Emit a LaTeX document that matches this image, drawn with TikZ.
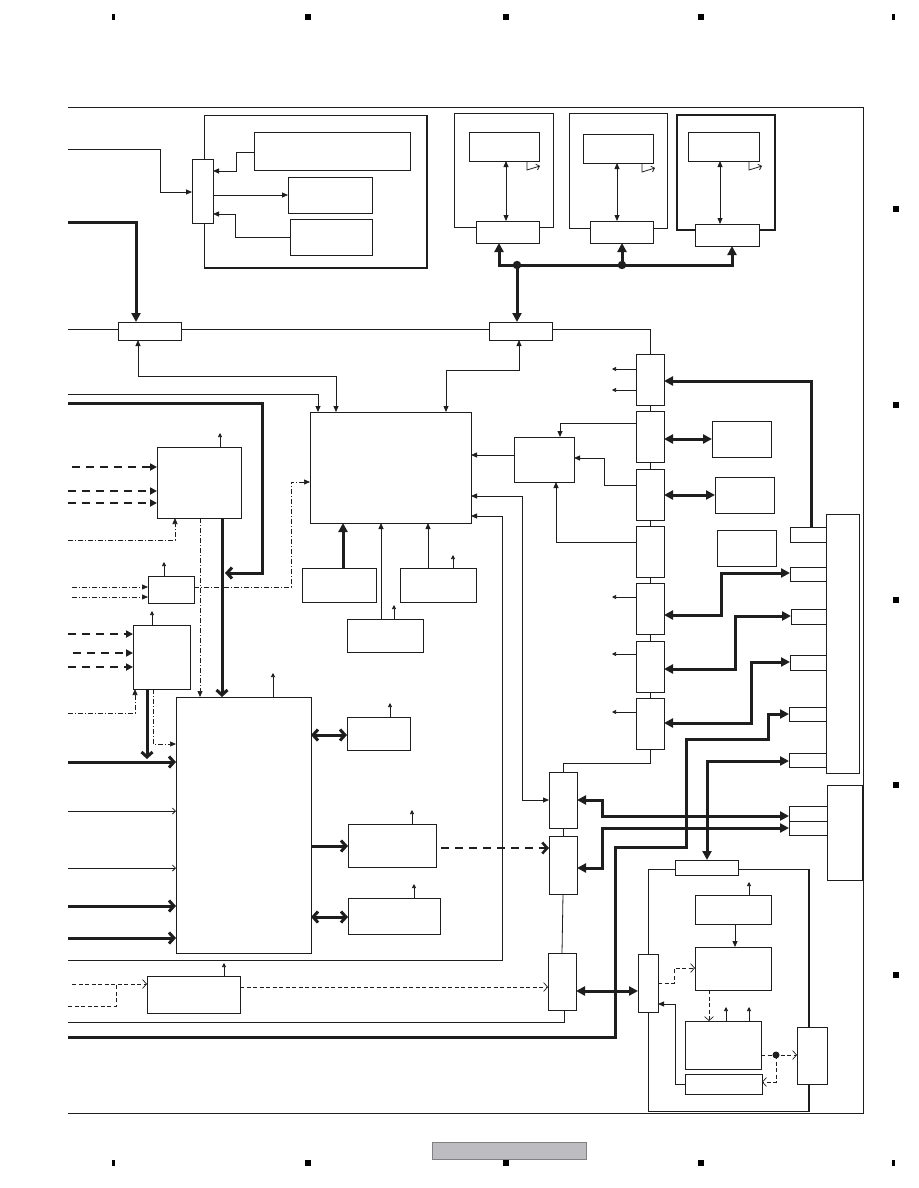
\documentclass[tikz,border=0pt]{standalone}
\usetikzlibrary{arrows.meta}
\definecolor{ink}{HTML}{1E1E1E}
\definecolor{pgray}{HTML}{BDBDC1}
\newcommand\mybox[6][]{\node[bx,#1,minimum width={(#4-#2)*1pt},minimum height={(#5-#3)*1pt}] (#6) at ({(#2+#4)/2},{(#3+#5)/2}) {};}
\tikzset{
 bx/.style={draw=ink,line width=0.9pt,fill=white,inner sep=0pt,outer sep=0pt},
 ln/.style={draw=ink,line width=0.8pt},
 tk/.style={draw=ink,line width=3pt},
 dk/.style={draw=ink,line width=2.6pt,dash pattern=on 8pt off 6pt},
 dd/.style={draw=ink,line width=0.7pt,dash pattern=on 5pt off 2pt on 1pt off 2pt},
 ds/.style={draw=ink,line width=0.7pt,dash pattern=on 4pt off 2.5pt},
 ta/.style={-{Triangle[length=6pt,width=5pt]}},
 tab/.style={{Triangle[length=6pt,width=5pt]}-{Triangle[length=6pt,width=5pt]}},
 sa/.style={draw=ink,line width=0.7pt,-{Triangle[length=4pt,width=4pt]}},
 ka/.style={-{Triangle[length=9pt,width=9pt]}},
 kaa/.style={{Triangle[length=9pt,width=9pt]}-{Triangle[length=9pt,width=9pt]}},
 kt/.style={-{Triangle[length=7pt,width=7pt]}},
 kb/.style={-{Straight Barb[length=5pt,width=11pt]}},
 kbb/.style={{Straight Barb[length=5pt,width=11pt]}-{Straight Barb[length=5pt,width=11pt]}},
 tb/.style={-{Straight Barb[length=3pt,width=6pt]}},
 oa/.style={-{Straight Barb[length=4pt,width=9pt,line width=0.7pt]}},
 mk/.style={fill=black},
 shadowedge/.style={draw=ink,line width=1.8pt},
}
\begin{document}
\begin{tikzpicture}[x=1pt,y=-1pt]
\useasboundingbox (0,0) rectangle (918,1188);
\fill[white] (0,0) rectangle (918,1188);
% corner markers
\foreach \mx/\mw in {112/3,305/6,503/6,698/6,892/3}{
  \fill[mk] (\mx,14) rectangle ++(\mw,6);
  \fill[mk] (\mx,1160) rectangle ++(\mw,6);}
\foreach \my in {206,402,597,782,972}{\fill[mk] (893,\my) rectangle ++(6,6);}
\mybox[draw=gray,fill=pgray]{432}{1142}{586}{1159}{pg}
% frame
\draw[ln] (68,107) -- (863,107) -- (863,1113) -- (68,1113);
% housings
\mybox{204}{115}{427}{268}{tlo}
\draw[shadowedge] (tlo.north east) -- (tlo.south east) -- (tlo.south west);
\mybox{454}{113}{553}{227}{hao}
\mybox{569}{113}{667}{228}{hbo}
\mybox[line width=1.5pt]{677}{115}{775}{230}{hco}
\draw[shadowedge] (hco.north east) -- (hco.south east) -- (hco.south west);
\mybox{648}{869}{809}{1111}{lro}
\draw[shadowedge] (lro.north east) -- (lro.south east);
% boxes
\mybox{254}{132}{410}{170}{A}
\mybox{288}{177}{372}{213}{B}
\mybox{290}{219}{372}{255}{C}
\mybox{192}{159}{213}{223}{D}
\mybox{118}{322}{181}{340}{E}
\mybox{489}{322}{552}{340}{F}
\mybox{469}{132}{539}{161}{hat}
\mybox{476}{221}{539}{243}{hab}
\mybox{583}{134}{653}{163}{hbt}
\mybox{590}{221}{653}{243}{hbb}
\mybox{688}{132}{759}{161}{hct}
\mybox{695}{224}{759}{246}{hcb}
\mybox{310}{412}{471}{523}{M}
\mybox{514}{437}{574}{482}{G}
\mybox{302}{568}{376}{602}{I}
\mybox{400}{568}{476}{602}{J}
\mybox{347}{619}{423}{652}{K}
\mybox{157}{447}{241}{518}{La}
\mybox{148}{576}{194}{603}{Lb}
\mybox{133}{625}{190}{689}{Lc}
\mybox{176}{697}{311}{953}{N}
\mybox{347}{717}{410}{750}{Oa}
\mybox{348}{824}{436}{867}{Ob}
\mybox{348}{898}{440}{934}{Oc}
\mybox{147}{976}{240}{1013}{P}
\mybox{636}{354}{664}{405}{Va}
\mybox{636}{411}{664}{462}{Vb}
\mybox{636}{469}{664}{520}{Vc}
\mybox{636}{526}{664}{577}{Vd}
\mybox{636}{583}{664}{634}{Ve}
\mybox{636}{641}{664}{692}{Vf}
\mybox{636}{698}{664}{749}{Vg}
\mybox{712}{421}{771}{457}{Wa}
\mybox{715}{477}{774}{513}{Wb}
\mybox{717}{530}{776}{566}{Wc}
\mybox{826}{514}{859}{773}{Q}
\mybox{790}{527}{826}{542}{Ra}
\mybox{790}{567}{826}{581}{Rb}
\mybox{791}{609}{826}{624}{Rc}
\mybox{790}{655}{826}{670}{Rd}
\mybox{789}{707}{826}{721}{Re}
\mybox{789}{753}{826}{767}{Rf}
\mybox{827}{785}{862}{880}{Qb}
\mybox{789}{806}{827}{821}{Ua}
\mybox{789}{821}{827}{835}{Ub}
\mybox{549}{772}{577}{828}{Sa}
\mybox{549}{836}{577}{894}{Sb}
\mybox{548}{953}{576}{1010}{Sc}
\mybox{675}{860}{738}{875}{T}
\mybox{695}{895}{771}{924}{Xa}
\mybox{695}{947}{771}{990}{Xb}
\mybox{685}{1021}{761}{1069}{Xc}
\mybox{685}{1074}{762}{1094}{Xd}
\mybox{638}{954}{658}{1012}{Z}
\mybox{797}{1027}{827}{1084}{Y}
% top-left group
\draw[ln,ta] (68,149) -| (160,192) -- (D.west |- 0,192);
\draw[ln,ta] (A.west |- 0,152) -| (236,171) -- (D.east |- 0,171);
\draw[ln,ta] (D.east |- 0,195) -- (B.west |- 0,195);
\draw[ln,ta] (C.west |- 0,237) -| (235,214) -- (D.east |- 0,214);
\draw[tk,ka] (68,222) -| (E.north -| 136,0);
% bus line
\draw[ln] (68,329) -- (E.west |- 0,329);
\draw[ln] (E.east |- 0,329) -- (F.west |- 0,329);
\draw[ln] (F.east |- 0,329) -| (Va.north);
\draw[ln] (Va.south) -- (Vb.north);
\draw[ln] (Vb.south) -- (Vc.north);
\draw[ln] (Vc.south) -- (Vd.north);
\draw[ln] (Vd.south) -- (Ve.north);
\draw[ln] (Ve.south) -- (Vf.north);
\draw[ln] (Vf.south) -- (Vg.north);
\draw[ln] (Vg.south) -- (650,763) -| (Sa.north);
\draw[ln] (Sa.south) -- (Sb.north);
\draw[ln] (Sb.south) -- (Sc.north);
% top right
\draw[tk,kaa] (hab.south -| 499,0) -- (499,265) -- (732,265) -- (hcb.south -| 732,0);
\draw[tk,ka] (622,265) -- (hbb.south -| 622,0);
\draw[tk,ka] (517,265) -- (F.north -| 517,0);
\fill[ink] (517,265) circle (4.2) (622,265) circle (4.2);
\draw[ln,tab] (hat.south -| 506,0) -- (hab.north -| 506,0);
\draw[ln,tab] (hbt.south -| 617,0) -- (hbb.north -| 617,0);
\draw[ln,tab] (hct.south -| 720,0) -- (hcb.north -| 720,0);
\draw[ln,tb] (hat.south -| 527,0) -- (527,170) -- (540,166);
\draw[ln,tb] (hbt.south -| 642,0) -- (642,172) -- (655,168);
\draw[ln,tb] (hct.south -| 749,0) -- (749,170) -- (762,166);
% around M
\draw[ln,tab] (E.south -| 138,0) |- (336,376) -- (M.north -| 336,0);
\draw[ln,ta] (68,394) -| (M.north -| 318,0);
\draw[ln,tab] (F.south -| 519,0) |- (446,370) -- (M.north -| 446,0);
\draw[tk,kb] (68,403) -| (262,573) -- (225,573);
\draw[ln,ta] (G.west |- 0,455) -- (M.east |- 0,455);
\draw[ln,tab] (M.east |- 0,496) -| (522,800) -- (Sa.west |- 0,800);
\draw[ln,ta] (68,960) -| (502,516) -- (M.east |- 0,516);
\draw[tk,ka] (I.north -| 343,0) -- (M.south -| 343,0);
\draw[ln,ta] (J.north -| 428,0) -- (M.south -| 428,0);
\draw[ln,ta] (K.north -| 381,0) -- (M.south -| 381,0);
\draw[sa] (J.north -| 453,0) -- ++(0,-13);
\draw[sa] (K.north -| 394,0) -- ++(0,-14);
% left column
\draw[sa] (La.north -| 220,0) -- ++(0,-14);
\draw[dk,kt] (72,467) -- (La.west |- 0,467);
\draw[dk,kt] (68,491) -- (La.west |- 0,491);
\draw[dk,kt] (68,503) -- (La.west |- 0,503);
\draw[dd,ta] (68,540) -| (La.south -| 175,0);
\draw[dd,ta] (La.south -| 200,0) -- (N.north -| 200,0);
\draw[tk,kb] (La.south -| 222,0) -- (N.north -| 222,0);
\draw[sa] (Lb.north -| 164,0) -- ++(0,-14);
\draw[dd,ta] (72,587) -- (Lb.west |- 0,587);
\draw[dd,ta] (72,597) -- (Lb.west |- 0,597);
\draw[dd,ta] (Lb.east |- 0,587) -| (291,482) -- (M.west |- 0,482);
\draw[sa] (Lc.north -| 152,0) -- ++(0,-14);
\draw[dk,kt] (68,634) -- (Lc.west |- 0,634);
\draw[dk,kt] (73,653) -- (Lc.west |- 0,653);
\draw[dk,kt] (68,667) -- (Lc.west |- 0,667);
\draw[dd,ta] (68,713) -| (Lc.south -| 135,0);
\draw[tk,kb] (Lc.south -| 147,0) -- (147,759);
\draw[dd,ta] (Lc.south -| 153,0) |- (N.west |- 0,744);
% N
\draw[sa] (N.north -| 273,0) -- ++(0,-24);
\draw[tk,kb] (68,762) -- (N.west |- 0,762);
\draw[ln,tb] (68,811) -- (N.west |- 0,811);
\draw[ln,tb] (68,868) -- (N.west |- 0,868);
\draw[tk,kb] (68,906) -- (N.west |- 0,906);
\draw[tk,kb] (68,938) -- (N.west |- 0,938);
\draw[tk,kbb] (N.east |- 0,735) -- (Oa.west |- 0,735);
\draw[tk,kb] (N.east |- 0,846) -- (Ob.west |- 0,846);
\draw[tk,kbb] (N.east |- 0,917) -- (Oc.west |- 0,917);
\draw[sa] (Oa.north -| 390,0) -- ++(0,-14);
\draw[sa] (Ob.north -| 412,0) -- ++(0,-14);
\draw[sa] (Oc.north -| 414,0) -- ++(0,-14);
\draw[dk,kb,shorten <=5pt] (Ob.east |- 0,848) -- (Sb.west |- 0,848);
% P
\draw[sa] (P.north -| 224,0) -- ++(0,-13);
\draw[ds,oa] (72,984) -- (P.west |- 0,984);
\draw[ds] (68,1006) -| (116,984);
\draw[ds,oa] (P.east |- 0,987) -- (Sc.west |- 0,987);
\draw[ln] (68,1022) -| (Sc.south -| 564,0);
\draw[tk,ka] (68,1037) -| (615,847) -| (686,739) -| (768,714) -- (Re.west |- 0,714);
% right column
\draw[sa] (Va.west |- 0,369) -- (612,369);
\draw[sa] (Va.west |- 0,390) -- (612,390);
\draw[ln,ta] (Vb.west |- 0,423) -| (G.north -| 560,0);
\draw[ln,ta] (Vc.west |- 0,485) -| (604,458) -- (G.east |- 0,458);
\draw[ln,ta] (Vd.west |- 0,542) -| (G.south -| 556,0);
\draw[sa] (Ve.west |- 0,597) -- (612,597);
\draw[sa] (Vf.west |- 0,654) -- (612,654);
\draw[sa] (Vg.west |- 0,712) -- (612,712);
\draw[tk,kaa] (Vb.east |- 0,439) -- (Wa.west |- 0,439);
\draw[tk,kaa] (Vc.east |- 0,495) -- (Wb.west |- 0,495);
\draw[tk,kaa] (Ve.east |- 0,615) -| (721,573) -- (Rb.west |- 0,573);
\draw[tk,kaa] (Vf.east |- 0,669) -| (735,616) -- (Rc.west |- 0,616);
\draw[tk,kaa] (Vg.east |- 0,723) -| (751,662) -- (Rd.west |- 0,662);
\draw[tk,ka] (Ra.north -| 811,0) |- (Va.east |- 0,381);
\draw[tk,kaa] (T.north -| 707,0) |- (Rf.west |- 0,761);
\draw[tk,kaa] (Sa.east |- 0,800) -| (602,816) -- (Ua.west |- 0,816);
\draw[tk,kaa] (Sb.east |- 0,868) -| (602,828) -- (Ub.west |- 0,828);
\draw[tk,kaa] (Sc.east |- 0,991) -- (Z.west |- 0,991);
% lower right housing
\draw[sa] (Xa.north -| 749,0) -- ++(0,-13);
\draw[ln,ta] (Xa.south -| 735,0) -- (Xb.north -| 735,0);
\draw[ds,oa] (Z.east |- 0,983) -| (674,968) -- (Xb.west |- 0,968);
\draw[ds,oa] (Xb.south -| 709,0) -- (Xc.north -| 709,0);
\draw[sa] (Xc.north -| 726,0) -- ++(0,-14);
\draw[sa] (Xc.north -| 749,0) -- ++(0,-14);
\draw[ds,oa] (Xc.east |- 0,1055) -- (Y.west |- 0,1055);
\draw[ds,oa] (776,1055) |- (Xd.east |- 0,1082);
\fill[ink] (776,1055) circle (3.5);
\draw[ln,ta] (Xd.west |- 0,1084) -| (675,1004) -- (Z.east |- 0,1004);
\end{tikzpicture}
\end{document}
